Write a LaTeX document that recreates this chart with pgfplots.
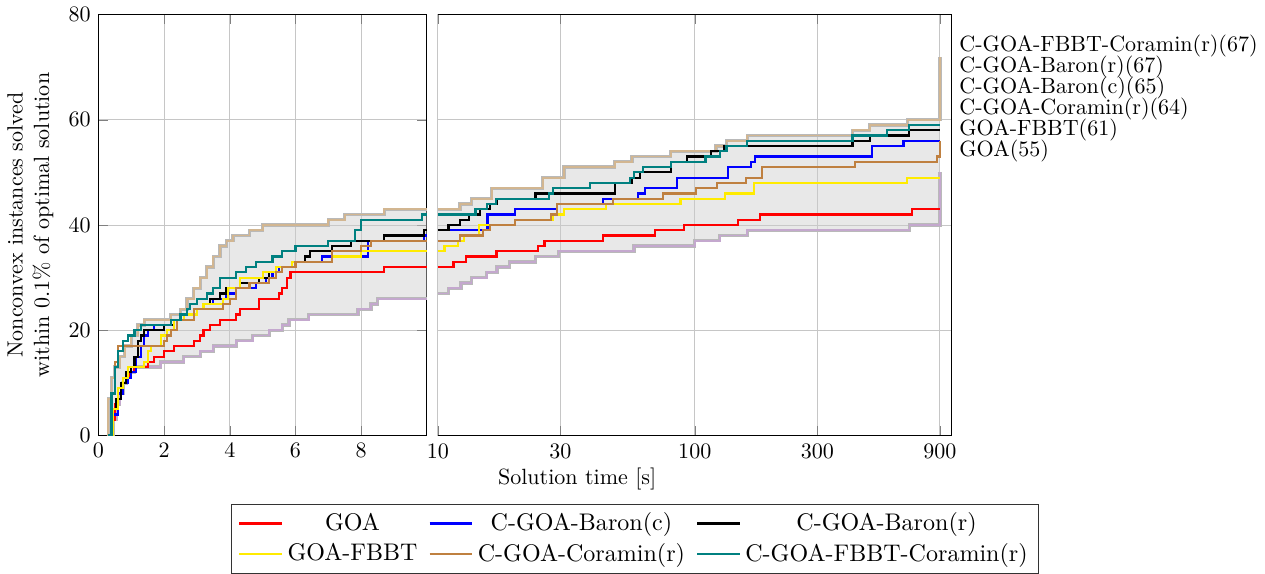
\documentclass[border=0pt]{standalone}
\usepackage{pgfplots}
\pgfplotsset{compat=1.18}
\usepackage{pgfplotstable}
\usepgfplotslibrary{fillbetween}
\usetikzlibrary{calc}

\definecolor{cFbbt}{RGB}{255,235,0}
\definecolor{cCor}{RGB}{191,128,64}
\definecolor{cTeal}{RGB}{0,128,128}
\definecolor{cUp}{RGB}{210,182,145}
\definecolor{cLo}{RGB}{196,168,206}

% ---- left panel (0-10 s, linear) ----
\pgfplotstableread{
t v
0.3 0
0.4 3
0.5 6
0.6 8
0.7 10
0.85 11
0.95 12
1.1 13
1.5 14
1.7 15
2.0 16
2.3 17
2.9 18
3.1 19
3.2 20
3.4 21
3.7 22
4.2 23
4.3 24
4.9 26
5.5 27
5.6 28
5.75 30
5.85 31
8.7 32
10 32
}\goaL
\pgfplotstableread{
t v
0.35 0
0.45 4
0.6 8
0.75 10
0.9 11
1.0 12
1.15 15
1.3 17
1.4 19
1.5 20
1.7 21
2.2 22
2.6 23
2.9 24
3.2 25
3.5 26
3.9 27
4.2 28
4.8 29
5.1 30
5.3 31
5.5 32
6.0 33
6.8 34
8.2 37
9.9 38
10 38
}\barcL
\pgfplotstableread{
t v
0.35 0
0.45 5
0.55 7
0.7 10
0.85 12
1.0 13
1.1 15
1.2 18
1.3 19
1.4 20
2.0 21
2.3 22
2.6 23
2.9 24
3.2 25
3.4 26
3.7 27
3.9 28
4.3 29
4.9 30
5.2 31
5.6 32
6.0 33
6.3 34
6.45 35
7.1 36
7.7 37
8.7 38
9.9 39
10 39
}\barrL
\pgfplotstableread{
t v
0.35 0
0.45 5
0.6 9
0.75 11
0.9 13
1.4 14
1.5 16
1.6 17
1.9 19
2.1 20
2.3 22
2.6 23
3.0 24
3.2 25
3.8 26
3.95 28
4.3 30
5.0 31
5.4 32
5.9 33
7.1 34
8.0 35
10 35
}\fbbtL
\pgfplotstableread{
t v
0.3 0
0.4 8
0.5 14
0.6 17
2.0 18
2.1 19
2.2 20
2.4 22
2.9 24
3.8 25
4.0 26
4.2 28
4.6 29
5.2 30
5.4 31
5.6 32
6.0 33
7.1 35
8.0 36
8.3 37
10 37
}\corL
\pgfplotstableread{
t v
0.3 0
0.4 8
0.5 13
0.6 16
0.75 18
0.9 19
1.1 20
1.3 21
2.2 22
2.5 23
2.7 24
2.8 25
3.0 26
3.3 27
3.5 28
3.7 30
4.2 31
4.5 32
4.8 33
5.3 34
5.6 35
6.0 36
7.0 37
7.8 39
8.0 41
9.85 42
10 42
}\fcorL
\pgfplotstableread{
t v
0.25 0
0.3 7
0.4 11
0.5 13
0.65 15
0.8 17
1.0 19
1.2 21
1.4 22
2.2 23
2.5 24
2.7 26
2.9 28
3.1 30
3.3 32
3.5 34
3.7 36
3.9 37
4.1 38
4.6 39
5.0 40
7.0 41
7.5 42
8.7 43
10 43
}\upL
\pgfplotstableread{
t v
0.4 0
0.45 3
0.55 6
0.65 8
0.75 10
0.85 11
0.95 12
1.1 13
1.9 14
2.6 15
3.1 16
3.5 17
4.2 18
4.7 19
5.2 20
5.6 21
5.8 22
6.4 23
7.9 24
8.3 25
8.5 26
10 26
}\loL

% ---- right panel (10-900 s, log) ----
\pgfplotstableread{
t v
10 32
11.5 33
12.9 34
16.9 35
24.5 36
26 37
44 38
70 39
91 40
147 41
180 42
700 43
900 43
}\goaR
\pgfplotstableread{
t v
10 39
15.6 42
20 43
29 44
44 45
60 46
64 47
85 49
135 51
165 52
172 53
490 55
650 56
900 56
}\barcR
\pgfplotstableread{
t v
10 39
11 40
12.2 41
13.2 42
14.6 43
16 44
17 45
24 46
48.8 48
57 49
61 50
81 52
93 53
116 54
130 55
411 56
480 57
680 58
900 58
}\barrR
\pgfplotstableread{
t v
10 35
10.6 36
12 37
12.6 38
14.5 40
20 41
28 42
31 43
45 44
88 45
131 46
170 48
670 49
900 49
}\fbbtR
\pgfplotstableread{
t v
10 37
12.2 38
15 39
16 40
20 41
27.5 42
29 44
48 45
75 46
101 47
122 48
158 49
183 51
420 52
880 53
900 56
}\corR
\pgfplotstableread{
t v
10 42
14 43
15.5 44
16.8 45
27 46
28 47
39 48
56 49
58 50
63 51
81 52
110 53
125 54
133 55
160 56
411 57
560 58
680 59
900 59
}\fcorR
\pgfplotstableread{
t v
10 43
12.2 44
13.5 45
16.2 47
25.6 49
31 51
48.8 52
57 53
80.6 54
121 55
133 56
160 57
411 58
480 59
673 60
900 72
}\upR
\pgfplotstableread{
t v
10 27
11 28
12.3 29
13.5 30
15.5 31
17 32
19 33
24 34
29.5 35
58 36
100 37
125 38
160 39
686 40
900 50
}\loR

\begin{document}
\begin{tikzpicture}
\pgfplotsset{
  runtime/.style={scale only axis, height=191pt, ymin=0, ymax=80,
    ytick={0,20,40,60,80}, grid=major,
    grid style={gray!45, line width=0.4pt}},
  curve/.style={const plot, line width=1pt, #1},
  band/.style={fill=gray!40, fill opacity=0.45, draw=none, forget plot},
}
\begin{axis}[runtime, name=left, width=149pt,
  xmin=0, xmax=10, xtick={0,2,4,6,8},
  ylabel={Nonconvex instances solved\\within 0.1\% of optimal solution},
  ylabel style={align=center}]
\addplot[const plot, draw=none, name path=ubL, forget plot] table {\upL};
\addplot[const plot, draw=none, name path=lbL, forget plot] table {\loL};
\addplot[band] fill between[of=ubL and lbL];
\addplot[const plot, gray!55, line width=1.5pt, forget plot] table {\upL};
\addplot[const plot, cUp, line width=0.8pt, forget plot] table {\upL};
\addplot[const plot, gray!55, line width=1.5pt, forget plot] table {\loL};
\addplot[const plot, cLo, line width=0.8pt, forget plot] table {\loL};
\addplot[curve=red] table {\goaL};
\addplot[curve=blue] table {\barcL};
\addplot[curve=black] table {\barrL};
\addplot[curve=cFbbt] table {\fbbtL};
\addplot[curve=cCor] table {\corL};
\addplot[curve=cTeal] table {\fcorL};
\end{axis}

\begin{axis}[runtime, name=right, width=233pt,
  at={($(left.south east)+(5pt,0)$)}, anchor=south west,
  xmode=log, xmin=10, xmax=1000,
  xtick={10,30,100,300,900}, xticklabels={10,30,100,300,900},
  xminorticks=false, yticklabels={}, ytick style={draw=none},
  axis x line*=box, axis y line*=right, axis line style={-},
  clip=false,
  legend columns=3, legend cell align=center,
  legend image code/.code={\draw[#1] (0cm,0cm) -- (0.68cm,0cm);},
  legend style={at={(0.384,-0.1615)}, anchor=north, draw=black!80,
    font=\fontsize{10.9}{13.2}\selectfont,
    /tikz/every even column/.append style={column sep=3pt}}]
\addplot[const plot, draw=none, name path=ubR, forget plot] table {\upR};
\addplot[const plot, draw=none, name path=lbR, forget plot] table {\loR};
\addplot[band] fill between[of=ubR and lbR];
\addplot[const plot, gray!55, line width=1.5pt, forget plot] table {\upR};
\addplot[const plot, cUp, line width=0.8pt, forget plot] table {\upR};
\addplot[const plot, gray!55, line width=1.5pt, forget plot] table {\loR};
\addplot[const plot, cLo, line width=0.8pt, forget plot] table {\loR};
\addplot[curve=red] table {\goaR};
\addplot[curve=blue] table {\barcR};
\addplot[curve=black] table {\barrR};
\addplot[curve=cFbbt] table {\fbbtR};
\addplot[curve=cCor] table {\corR};
\addplot[curve=cTeal] table {\fcorR};
\legend{GOA, C-GOA-Baron(c), C-GOA-Baron(r), GOA-FBBT, C-GOA-Coramin(r), C-GOA-FBBT-Coramin(r)}
\node[anchor=west] at (axis cs:1000,74) {C-GOA-FBBT-Coramin(r)(67)};
\node[anchor=west] at (axis cs:1000,70) {C-GOA-Baron(r)(67)};
\node[anchor=west] at (axis cs:1000,66) {C-GOA-Baron(c)(65)};
\node[anchor=west] at (axis cs:1000,62) {C-GOA-Coramin(r)(64)};
\node[anchor=west] at (axis cs:1000,58) {GOA-FBBT(61)};
\node[anchor=west] at (axis cs:1000,54) {GOA(55)};
\node at (rel axis cs:0.271,-0.102) {Solution time [s]};
\end{axis}
\end{tikzpicture}
\end{document}
